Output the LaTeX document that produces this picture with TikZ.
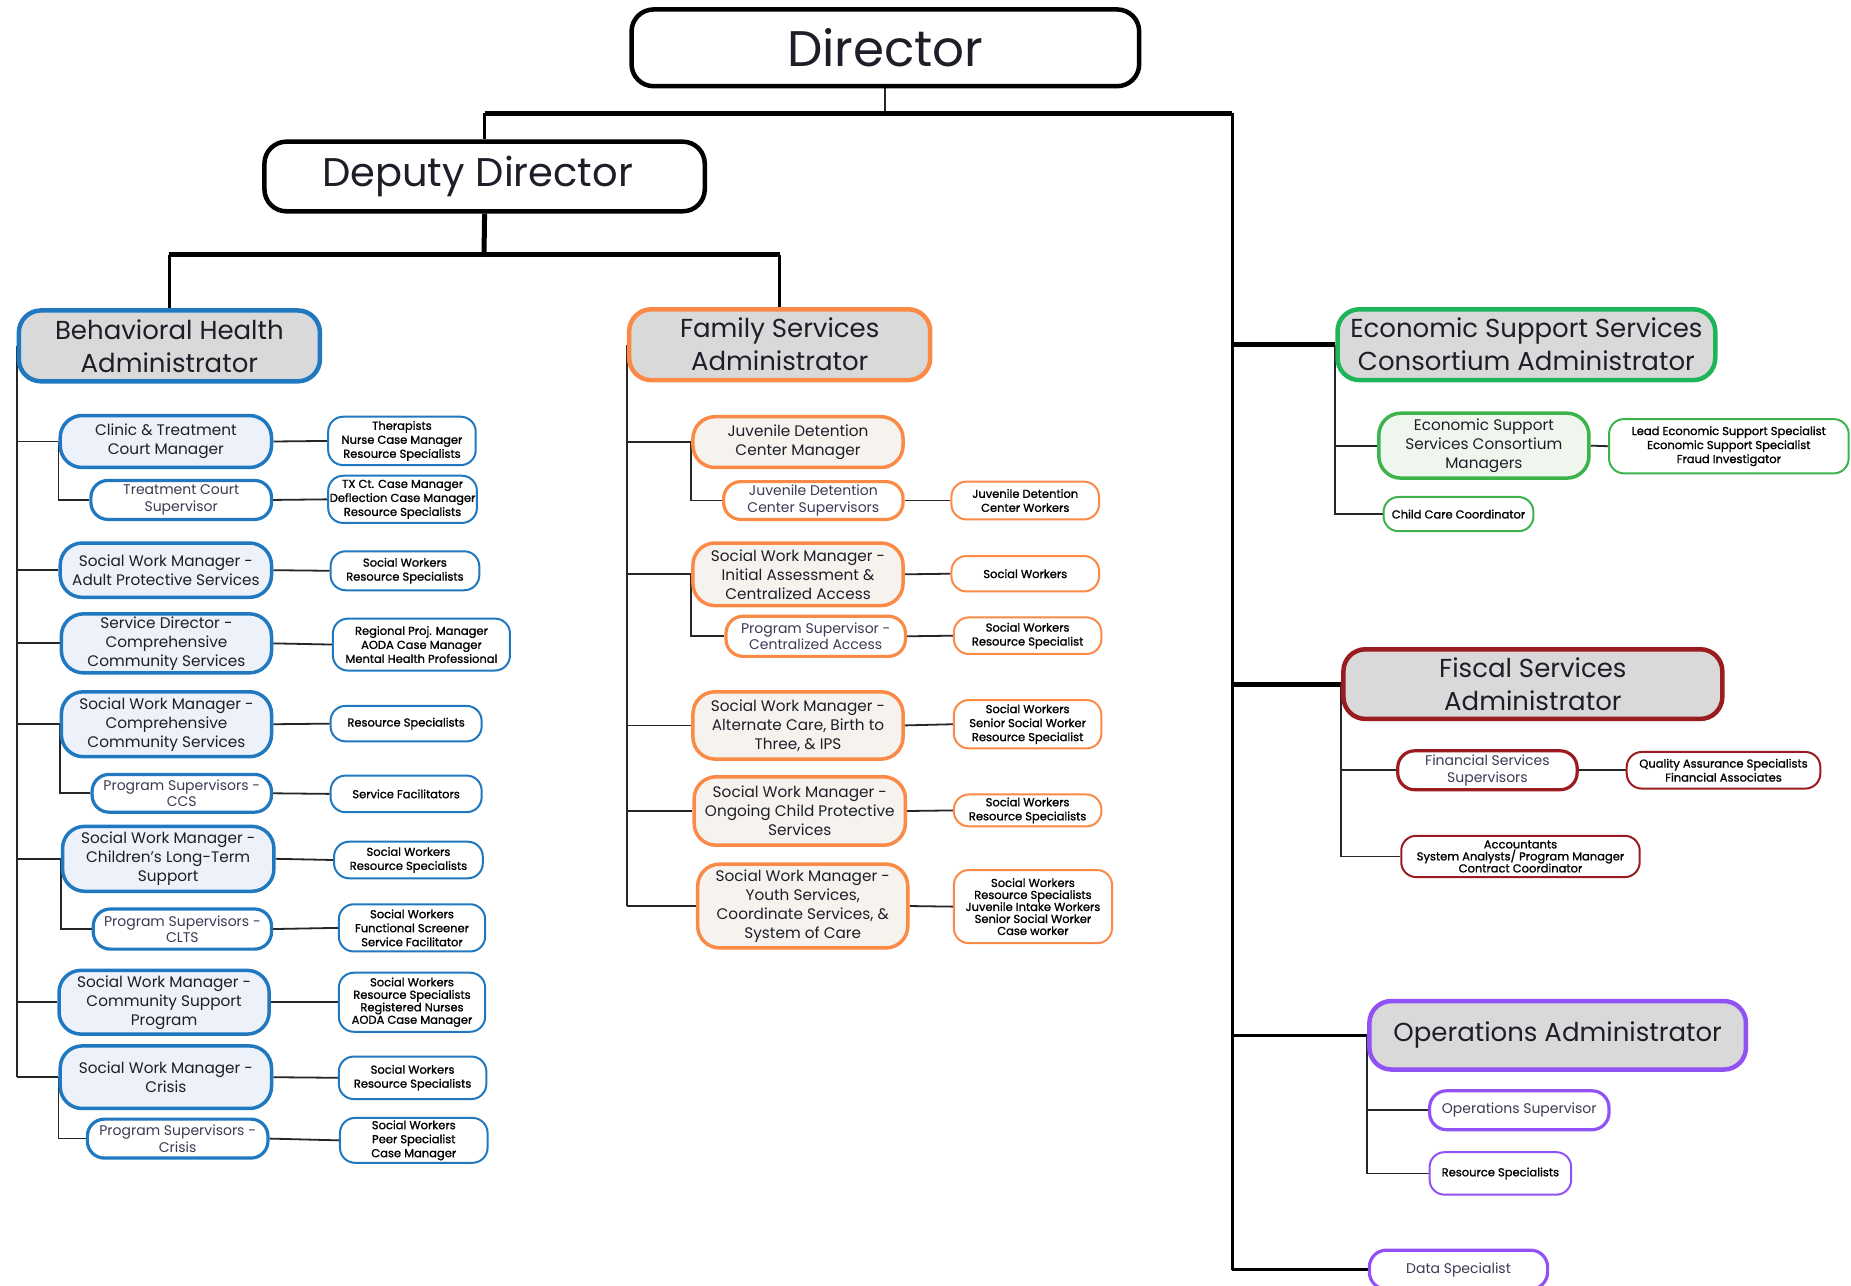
\documentclass[tikz,border=0pt]{standalone}
\usepackage{fontspec}
\setmainfont{Poppins}
\newfontfamily\stffont{Poppins}[FakeBold=1.2]
\usetikzlibrary{backgrounds}
\definecolor{bhblue}{HTML}{1F78C0}
\definecolor{fsorange}{HTML}{FA8A46}
\definecolor{esgreen}{HTML}{1DB45A}
\definecolor{esgreenb}{HTML}{3CB44B}
\definecolor{fisred}{HTML}{9A1C20}
\definecolor{oppurple}{HTML}{9152F5}
\definecolor{admfill}{HTML}{D9D9D9}
\definecolor{bhfill}{HTML}{EDF1F9}
\definecolor{fsfill}{HTML}{F6F3EF}
\definecolor{esfill}{HTML}{EEF6EE}
\definecolor{txt}{HTML}{1E1E28}
\definecolor{subtxt}{HTML}{3A3A55}
\newcommand\orgbox[7]{\node[#6, minimum width={(#4-#2)*1.1805pt}, minimum height={(#5-#3)*1.1805pt}] (#1) at ({(#2+#4)/2},{(#3+#5)/2}) {#7};}
\tikzset{
  boxbase/.style={draw, inner sep=0pt, align=center, text=txt},
  topbox/.style={boxbase, draw=black, line width=4.5pt, rounded corners=22pt, fill=white},
  admbox/.style={boxbase, line width=4.5pt, rounded corners=22pt, fill=admfill, font=\fontsize{26}{33}\selectfont},
  mgrbox/.style={boxbase, line width=3.5pt, rounded corners=22pt, font=\fontsize{15.3}{19}\selectfont},
  supbox/.style={boxbase, line width=3.2pt, rounded corners=17pt, fill=white, text=subtxt, font=\fontsize{14}{16.5}\selectfont},
  stfbox/.style={boxbase, line width=2pt, rounded corners=15pt, fill=white, text=black, font=\stffont\fontsize{11.5}{14}\selectfont},
  bar/.style={line width=5pt, black},
  mid/.style={line width=3pt, black},
  lnk/.style={line width=1.8pt, black!85},
}
\begin{document}
\begin{tikzpicture}[x=1.1805pt, y=-1.1805pt]
\useasboundingbox (0,0) rectangle (1568,1089);
% top
\orgbox{dir}{535}{8}{965}{73}{topbox, font=\fontsize{50}{56}\selectfont}{Director}
\orgbox{dep}{224}{120}{597}{179}{topbox, font=\fontsize{40}{46}\selectfont}{Deputy Director\hspace*{14pt}}
% administrators
\orgbox{bh}{16}{263}{271}{323}{admbox, draw=bhblue}{Behavioral Health\\Administrator}
\orgbox{fs}{533}{262}{788}{322}{admbox, draw=fsorange}{Family Services\\Administrator}
\orgbox{ess}{1133}{262}{1453}{322}{admbox, draw=esgreen}{Economic Support Services\\Consortium Administrator}
\orgbox{fis}{1138}{550}{1459}{609}{admbox, draw=fisred}{Fiscal Services\\Administrator}
\orgbox{ops}{1160}{848}{1479}{906}{admbox, draw=oppurple}{Operations Administrator}
\orgbox{data}{1160}{1059}{1311}{1092}{supbox, draw=oppurple}{Data Specialist}
% behavioral health
\orgbox{clinic}{51}{352}{230}{396}{mgrbox, draw=bhblue, fill=bhfill}{Clinic \& Treatment\\Court Manager}
\orgbox{tcs}{77}{407}{230}{440}{supbox, draw=bhblue}{Treatment Court\\Supervisor}
\orgbox{ther}{278}{353}{403}{394}{stfbox, draw=bhblue}{Therapists\\Nurse Case Manager\\Resource Specialists}
\orgbox{txct}{278}{403}{404}{443}{stfbox, draw=bhblue}{TX Ct. Case Manager\\Deflection Case Manager\\Resource Specialists}
\orgbox{aps}{51}{460}{230}{506}{mgrbox, draw=bhblue, fill=bhfill}{Social Work Manager -\\Adult Protective Services}
\orgbox{apsS}{280}{467}{406}{500}{stfbox, draw=bhblue}{Social Workers\\Resource Specialists}
\orgbox{sdccs}{52}{520}{230}{570}{mgrbox, draw=bhblue, fill=bhfill}{Service Director -\\Comprehensive\\Community Services}
\orgbox{sdccsS}{282}{524}{432}{568}{stfbox, draw=bhblue}{Regional Proj. Manager\\AODA Case Manager\\Mental Health Professional}
\orgbox{ccs}{52}{586}{230}{641}{mgrbox, draw=bhblue, fill=bhfill}{Social Work Manager -\\Comprehensive\\Community Services}
\orgbox{ccsS}{280}{598}{408}{628}{stfbox, draw=bhblue}{Resource Specialists}
\orgbox{psccs}{78}{656}{230}{688}{supbox, draw=bhblue}{Program Supervisors -\\CCS}
\orgbox{psccsS}{280}{657}{408}{688}{stfbox, draw=bhblue}{Service Facilitators}
\orgbox{clts}{53}{700}{232}{755}{mgrbox, draw=bhblue, fill=bhfill}{Social Work Manager -\\Children’s Long-Term\\Support}
\orgbox{cltsS}{283}{713}{409}{744}{stfbox, draw=bhblue}{Social Workers\\Resource Specialists}
\orgbox{psclts}{79}{770}{230}{804}{supbox, draw=bhblue}{Program Supervisors -\\CLTS}
\orgbox{pscltsS}{287}{766}{411}{806}{stfbox, draw=bhblue}{Social Workers\\Functional Screener\\Service Facilitator}
\orgbox{csp}{50}{822}{228}{876}{mgrbox, draw=bhblue, fill=bhfill}{Social Work Manager -\\Community Support\\Program}
\orgbox{cspS}{287}{824}{411}{874}{stfbox, draw=bhblue, font=\stffont\fontsize{11.5}{12.5}\selectfont}{Social Workers\\Resource Specialists\\Registered Nurses\\AODA Case Manager}
\orgbox{crisis}{51}{886}{230}{939}{mgrbox, draw=bhblue, fill=bhfill}{Social Work Manager -\\Crisis}
\orgbox{crisisS}{287}{895}{412}{931}{stfbox, draw=bhblue}{Social Workers\\Resource Specialists}
\orgbox{pscr}{74}{948}{227}{981}{supbox, draw=bhblue}{Program Supervisors -\\Crisis}
\orgbox{pscrS}{288}{947}{413}{985}{stfbox, draw=bhblue}{Social Workers\\Peer Specialist\\Case Manager}
% family services
\orgbox{jdcm}{587}{353}{765}{396}{mgrbox, draw=fsorange, fill=fsfill}{Juvenile Detention\\Center Manager}
\orgbox{jdcs}{613}{408}{765}{440}{supbox, draw=fsorange}{Juvenile Detention\\Center Supervisors}
\orgbox{jdcsS}{806}{408}{931}{440}{stfbox, draw=fsorange}{Juvenile Detention\\Center Workers}
\orgbox{iaca}{587}{460}{765}{513}{mgrbox, draw=fsorange, fill=fsfill}{Social Work Manager -\\Initial Assessment \&\\Centralized Access}
\orgbox{iacaS}{806}{471}{931}{501}{stfbox, draw=fsorange}{Social Workers}
\orgbox{psca}{615}{522}{767}{556}{supbox, draw=fsorange}{Program Supervisor -\\Centralized Access}
\orgbox{pscaS}{808}{523}{933}{554}{stfbox, draw=fsorange}{Social Workers\\Resource Specialist}
\orgbox{alt}{587}{586}{765}{643}{mgrbox, draw=fsorange, fill=fsfill}{Social Work Manager -\\Alternate Care, Birth to\\Three, \& IPS}
\orgbox{altS}{808}{593}{933}{634}{stfbox, draw=fsorange}{Social Workers\\Senior Social Worker\\Resource Specialist}
\orgbox{ocps}{588}{658}{767}{716}{mgrbox, draw=fsorange, fill=fsfill}{Social Work Manager -\\Ongoing Child Protective\\Services}
\orgbox{ocpsS}{808}{673}{933}{700}{stfbox, draw=fsorange}{Social Workers\\Resource Specialists}
\orgbox{ys}{591}{732}{769}{803}{mgrbox, draw=fsorange, fill=fsfill}{Social Work Manager -\\Youth Services,\\Coordinate Services, \&\\System of Care}
\orgbox{ysS}{808}{737}{942}{799}{stfbox, draw=fsorange, font=\stffont\fontsize{11.5}{12}\selectfont}{Social Workers\\Resource Specialists\\Juvenile Intake Workers\\Senior Social Worker\\Case worker}
% economic support
\orgbox{essm}{1168}{350}{1346}{405}{mgrbox, draw=esgreenb, fill=esfill}{Economic Support\\Services Consortium\\Managers}
\orgbox{essmS}{1363}{355}{1566}{401}{stfbox, draw=esgreenb}{Lead Economic Support Specialist\\Economic Support Specialist\\Fraud Investigator}
\orgbox{ccc}{1172}{421}{1299}{450}{stfbox, draw=esgreenb}{Child Care Coordinator}
% fiscal
\orgbox{fss}{1184}{636}{1336}{669}{supbox, draw=fisred}{Financial Services\\Supervisors}
\orgbox{fssS}{1378}{637}{1542}{668}{stfbox, draw=fisred}{Quality Assurance Specialists\\Financial Associates}
\orgbox{acct}{1187}{708}{1389}{743}{stfbox, draw=fisred, font=\stffont\fontsize{11.5}{12}\selectfont}{Accountants\\System Analysts/ Program Manager\\Contract Coordinator}
% operations
\orgbox{opsup}{1211}{924}{1363}{957}{supbox, draw=oppurple}{Operations Supervisor}
\orgbox{opres}{1211}{976}{1331}{1012}{stfbox, draw=oppurple}{Resource Specialists}
% connectors
\coordinate (tR) at (1044,96);
\coordinate (t2) at (410,216);
\begin{pgfonlayer}{background}
\fill[white] (0,0) rectangle (1568,1089);
\draw[lnk] (dir.south) -- (dir.south |- tR);
\draw[bar] (dep.north |- tR) -- (tR);
\draw[mid] (dep.north |- tR) -- (dep.north);
\draw[bar] (dep.south) -- (t2);
\draw[bar] (bh.north |- t2) -- (fs.north |- t2);
\draw[mid] (bh.north |- t2) -- (bh.north);
\draw[mid] (fs.north |- t2) -- (fs.north);
\draw[mid] (tR) -- (tR |- data.west);
\draw[bar] (tR |- ess.west) -- (ess.west);
\draw[bar] (tR |- fis.west) -- (fis.west);
\draw[mid] (tR |- ops.west) -- (ops.west);
\draw[mid] (tR |- data.west) -- (data.west);
% BH
\draw[lnk] (bh.west) -- (bh.west |- crisis.west);
\foreach \m in {clinic,aps,sdccs,ccs,clts,csp,crisis} {\draw[lnk] (bh.west |- \m.west) -- (\m.west);}
\draw[lnk] (clinic.west) |- (tcs.west);
\draw[lnk] (ccs.west) |- (psccs.west);
\draw[lnk] (clts.west) |- (psclts.west);
\draw[lnk] (crisis.west) |- (pscr.west);
\draw[lnk] (clinic.east) -- (ther.west);
\draw[lnk] (tcs.east) -- (txct.west);
\draw[lnk] (aps.east) -- (apsS.west);
\draw[lnk] (sdccs.east) -- (sdccsS.west);
\draw[lnk] (ccs.east) -- (ccsS.west);
\draw[lnk] (psccs.east) -- (psccsS.west);
\draw[lnk] (clts.east) -- (cltsS.west);
\draw[lnk] (psclts.east) -- (pscltsS.west);
\draw[lnk] (csp.east) -- (cspS.west);
\draw[lnk] (crisis.east) -- (crisisS.west);
\draw[lnk] (pscr.east) -- (pscrS.west);
% FS
\draw[lnk] (fs.west) -- (fs.west |- ys.west);
\foreach \m in {jdcm,iaca,alt,ocps,ys} {\draw[lnk] (fs.west |- \m.west) -- (\m.west);}
\draw[lnk] (jdcm.west) |- (jdcs.west);
\draw[lnk] (iaca.west) |- (psca.west);
\draw[lnk] (jdcs.east) -- (jdcsS.west);
\draw[lnk] (iaca.east) -- (iacaS.west);
\draw[lnk] (psca.east) -- (pscaS.west);
\draw[lnk] (alt.east) -- (altS.west);
\draw[lnk] (ocps.east) -- (ocpsS.west);
\draw[lnk] (ys.east) -- (ysS.west);
% ESS
\draw[lnk] (ess.west) -- (ess.west |- ccc.west) -- (ccc.west);
\draw[lnk] (ess.west |- essm.west) -- (essm.west);
\draw[lnk] (essm.east) -- (essmS.west);
% Fiscal
\draw[lnk] (fis.west) -- (fis.west |- acct.west) -- (acct.west);
\draw[lnk] (fis.west |- fss.west) -- (fss.west);
\draw[lnk] (fss.east) -- (fssS.west);
% Ops
\draw[lnk] (ops.west) -- (ops.west |- opres.west) -- (opres.west);
\draw[lnk] (ops.west |- opsup.west) -- (opsup.west);
\end{pgfonlayer}
\end{tikzpicture}
\end{document}
